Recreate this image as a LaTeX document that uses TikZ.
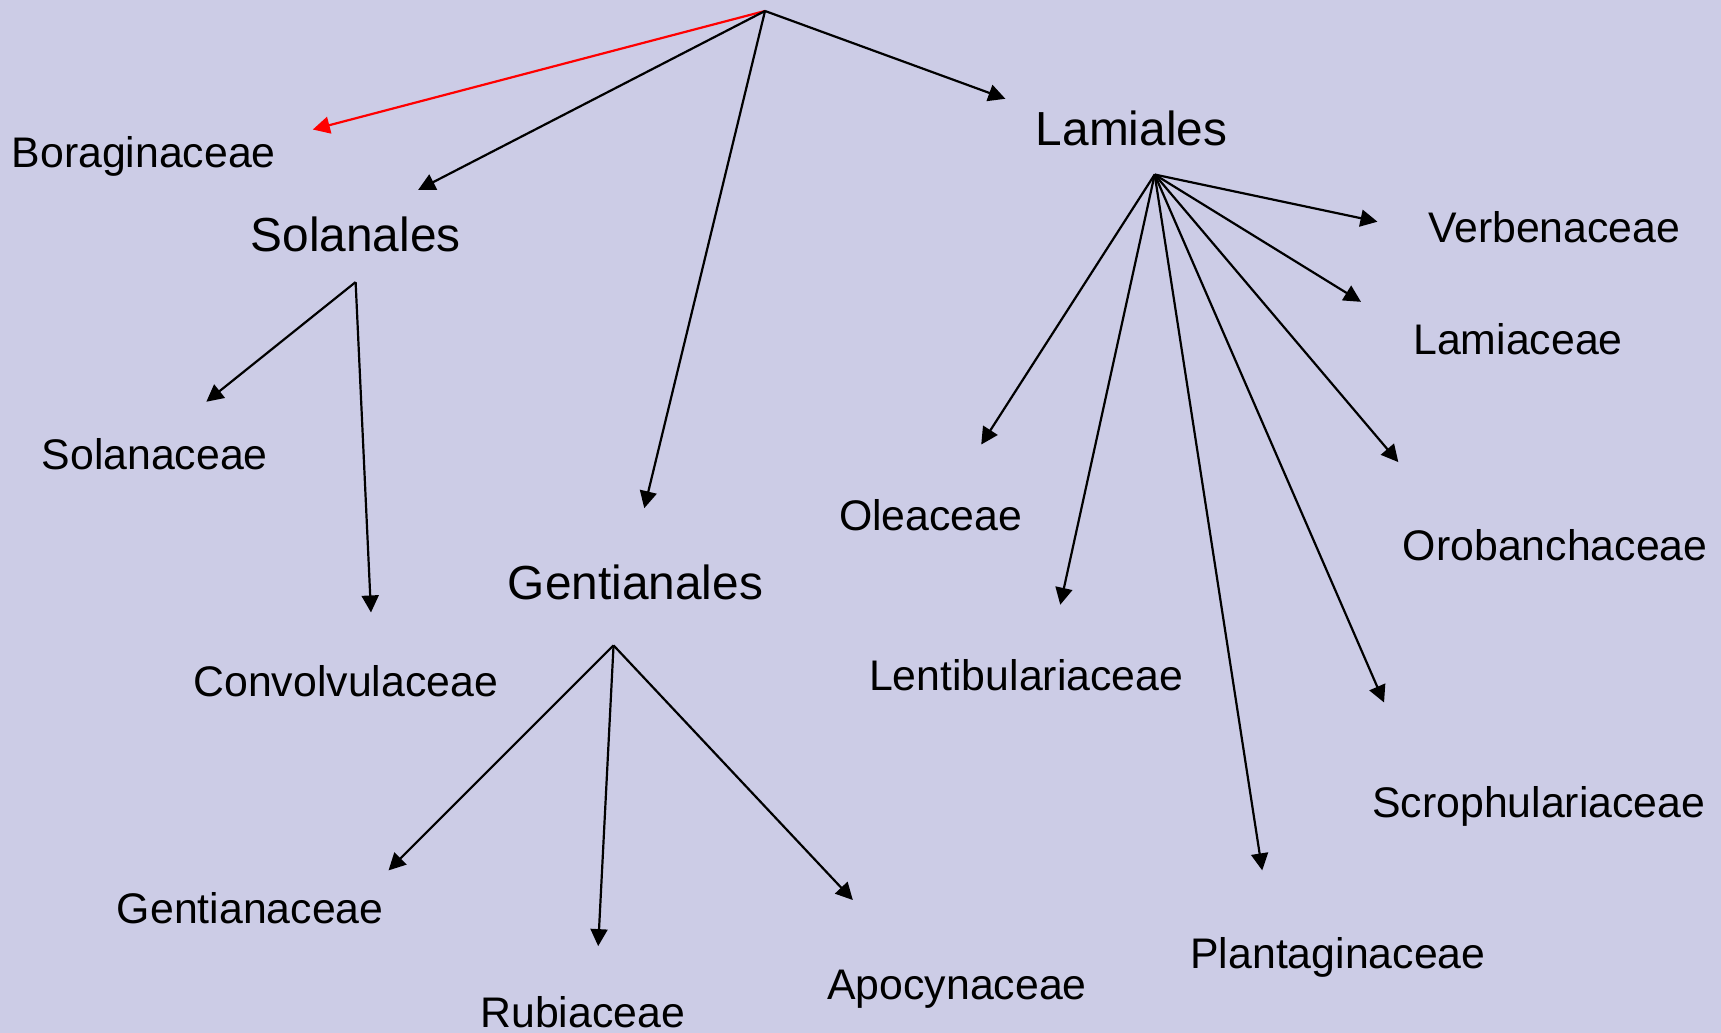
\documentclass[tikz,border=0pt]{standalone}
\usepackage{fontspec}
\setmainfont{Liberation Sans}
\usetikzlibrary{arrows.meta}
\definecolor{slidebg}{HTML}{CCCCE6}

\begin{document}
\begin{tikzpicture}[
x=0.5488pt, y=-0.5488pt,
family/.style={font=\fontsize{21.4}{25}\selectfont, inner sep=0pt, anchor=base},
order/.style={font=\fontsize{23.9}{28}\selectfont, inner sep=0pt, anchor=base},
arrow/.style={-{Triangle[length=8.5pt,width=8.5pt]}, line width=1.1pt}
]
\fill[slidebg] (0,0) rectangle (1568,941);
\useasboundingbox (0,0) rectangle (1568,941);

% orders
\node[order] (solan) at (324,229) {Solanales};
\node[order] (gent) at (579,546) {Gentianales};
\node[order] (lami) at (1031,133) {Lamiales};

% families
\node[family] (bora) at (131,153) {Boraginaceae};
\node[family] (solc) at (141,428) {Solanaceae};
\node[family] (conv) at (315,635) {Convolvulaceae};
\node[family] (gentc) at (228,841) {Gentianaceae};
\node[family] (rubi) at (531,936) {Rubiaceae};
\node[family] (apoc) at (872,911) {Apocynaceae};
\node[family] (verb) at (1416,221) {Verbenaceae};
\node[family] (lamc) at (1383,323) {Lamiaceae};
\node[family] (olea) at (848,483) {Oleaceae};
\node[family] (orob) at (1417,511) {Orobanchaceae};
\node[family] (lent) at (935,629) {Lentibulariaceae};
\node[family] (scro) at (1402,745) {Scrophulariaceae};
\node[family] (plan) at (1219,882) {Plantaginaceae};

% fork points and arrow tips
\coordinate (top) at (697,10);
\coordinate (solan-fork) at (324,257);
\coordinate (gent-fork) at (559,588);
\coordinate (lami-fork) at (1052,159);

\coordinate (bora-tip) at (285,118);
\coordinate (solan-tip) at (381,173);
\coordinate (gent-tip) at (587,463);
\coordinate (lami-tip) at (916,90);
\coordinate (solc-tip) at (188,366);
\coordinate (conv-tip) at (338,558);
\coordinate (gentc-tip) at (354,793);
\coordinate (rubi-tip) at (545,862);
\coordinate (apoc-tip) at (777,820);
\coordinate (verb-tip) at (1255,202);
\coordinate (lamc-tip) at (1240,275);
\coordinate (orob-tip) at (1274,421);
\coordinate (scro-tip) at (1261,640);
\coordinate (plan-tip) at (1150,793);
\coordinate (lent-tip) at (966,551);
\coordinate (olea-tip) at (894,405);

\draw[arrow, red] (top) -- (bora-tip);
\draw[arrow] (top) -- (solan-tip);
\draw[arrow] (top) -- (gent-tip);
\draw[arrow] (top) -- (lami-tip);

\draw[arrow] (solan-fork) -- (solc-tip);
\draw[arrow] (solan-fork) -- (conv-tip);

\draw[arrow] (gent-fork) -- (gentc-tip);
\draw[arrow] (gent-fork) -- (rubi-tip);
\draw[arrow] (gent-fork) -- (apoc-tip);

\draw[arrow] (lami-fork) -- (verb-tip);
\draw[arrow] (lami-fork) -- (lamc-tip);
\draw[arrow] (lami-fork) -- (orob-tip);
\draw[arrow] (lami-fork) -- (scro-tip);
\draw[arrow] (lami-fork) -- (plan-tip);
\draw[arrow] (lami-fork) -- (lent-tip);
\draw[arrow] (lami-fork) -- (olea-tip);
\end{tikzpicture}
\end{document}
